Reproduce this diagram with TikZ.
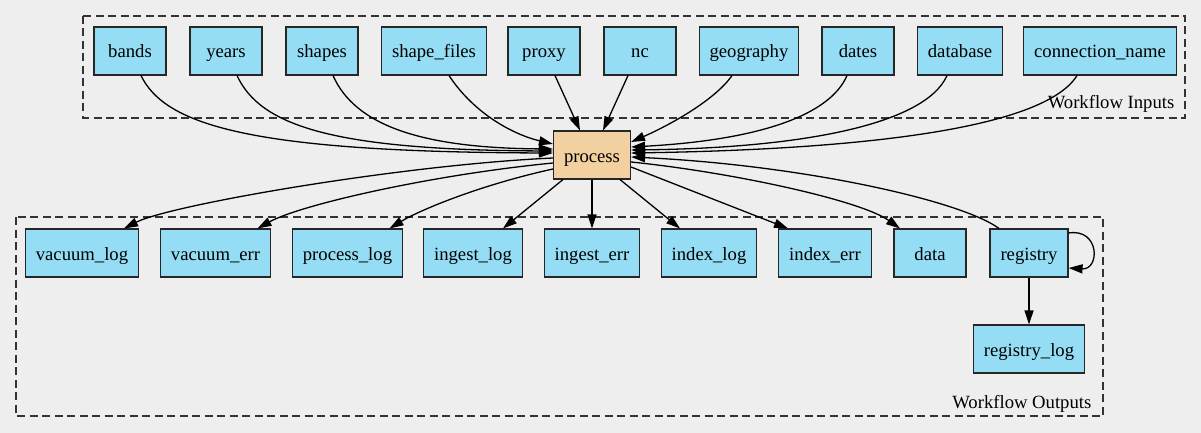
\documentclass[tikz,border=0pt]{standalone}
\usepackage{fontspec}
\setmainfont{Liberation Serif}
\usetikzlibrary{arrows.meta}

\definecolor{bgcol}{HTML}{EEEEEE}
\definecolor{iofill}{HTML}{94DDF5}
\definecolor{procfill}{HTML}{F3D0A0}
\def\nodefont{\fontsize{18.67}{22}\selectfont}

\begin{document}
\begin{tikzpicture}[x=1pt,y=-1pt,line width=1.3pt]
    \tikzstyle{io}=[draw=black!85,line width=1.1pt,fill=iofill,minimum width=72,minimum height=48,inner xsep=10.5,inner ysep=0,text height=17,text depth=3,font=\nodefont]
    \tikzstyle{proc}=[io,fill=procfill,minimum width=76]
    \tikzstyle{flow}=[-{Triangle[length=14pt,width=9pt]}]
    \tikzstyle{cluster}=[draw=black!80,line width=1.1pt,dash pattern=on 8pt off 4.5pt]
    \tikzstyle{clabel}=[font=\nodefont,inner sep=0pt,anchor=base east]

    % Page and background
    \useasboundingbox (0,0) rectangle (1201,433);
    \fill[bgcol] (0,0) rectangle (1201,433);

    % Draw the clusters
    \draw[cluster] (83,16) rectangle (1185,118);
    \draw[cluster] (16,217) rectangle (1103,416);
    \node[clabel] (inlabel) at (1175,109) {Workflow Inputs};
    \node[clabel] (outlabel) at (1092,408) {Workflow Outputs};

    % Draw the input nodes
    \node[io] (bands) at (130,51) {bands};
    \node[io] (years) at (226,51) {years};
    \node[io] (shapes) at (322,51) {shapes};
    \node[io] (shape_files) at (434,51) {shape\_files};
    \node[io] (proxy) at (544,51) {proxy};
    \node[io] (nc) at (640,51) {nc};
    \node[io] (geography) at (749,51) {geography};
    \node[io] (dates) at (858,51) {dates};
    \node[io] (database) at (960,51) {database};
    \node[io] (connection_name) at (1100,51) {connection\_name};

    % Draw the process node
    \node[proc] (process) at (592,155) {process};

    % Draw the output nodes
    \node[io] (vacuum_log) at (82,253) {vacuum\_log};
    \node[io] (vacuum_err) at (215.5,253) {vacuum\_err};
    \node[io] (process_log) at (347.5,253) {process\_log};
    \node[io] (ingest_log) at (473,253) {ingest\_log};
    \node[io] (ingest_err) at (592,253) {ingest\_err};
    \node[io] (index_log) at (709,253) {index\_log};
    \node[io] (index_err) at (825,253) {index\_err};
    \node[io] (data) at (930,253) {data};
    \node[io] (registry) at (1029,253) {registry};
    \node[io] (registry_log) at (1029,349) {registry\_log};

    % Connect every input to the process
    \draw[flow] ([xshift=11]bands.south) .. controls (165,125) and (250,152) .. ([yshift=2]process.west);
    \draw[flow] ([xshift=11]years.south) .. controls (260,125) and (330,150) .. ([yshift=4]process.west);
    \draw[flow] ([xshift=11]shapes.south) .. controls (355,125) and (420,148) .. ([yshift=6]process.west);
    \draw[flow] ([xshift=15]shape_files.south) .. controls (475,115) and (515,135) .. ([yshift=11]process.west);
    \draw[flow] ([xshift=11]proxy.south) -- ([xshift=-12]process.north);
    \draw[flow] ([xshift=-12]nc.south) -- ([xshift=11]process.north);
    \draw[flow] ([xshift=-17]geography.south) .. controls (715,100) and (670,125) .. ([yshift=13]process.east);
    \draw[flow] ([xshift=-11]dates.south) .. controls (830,115) and (760,140) .. ([yshift=8]process.east);
    \draw[flow] ([xshift=-13]database.south) .. controls (925,125) and (800,148) .. ([yshift=5]process.east);
    \draw[flow] ([xshift=-23]connection_name.south) .. controls (1040,135) and (820,150) .. ([yshift=2]process.east);

    % Connect the process to every output
    \draw[flow] ([yshift=-3]process.west) .. controls (400,165) and (170,205) .. ([xshift=42]vacuum_log.north);
    \draw[flow] ([yshift=-8]process.west) .. controls (430,175) and (300,205) .. ([xshift=42]vacuum_err.north);
    \draw[flow] ([yshift=-14]process.west) .. controls (480,185) and (420,210) .. ([xshift=42]process_log.north);
    \draw[flow] ([xshift=-29]process.south) -- ([xshift=30]ingest_log.north);
    \draw[flow] (process.south) -- (ingest_err.north);
    \draw[flow] ([xshift=28]process.south) -- ([xshift=-29]index_log.north);
    \draw[flow] ([yshift=-12]process.east) -- ([xshift=-37]index_err.north);
    \draw[flow] ([yshift=-7]process.east) .. controls (730,172) and (860,200) .. ([xshift=-30]data.north);

    % The registry feeds back
    \draw[flow] ([xshift=-30]registry.north) .. controls (960,200) and (800,165) .. ([yshift=-2]process.east);
    \draw[flow] ([yshift=20]registry.east) .. controls (1100,228) and (1100,270) .. ([yshift=-15]registry.east);
    \draw[flow] (registry.south) -- (registry_log.north);
\end{tikzpicture}
\end{document}
